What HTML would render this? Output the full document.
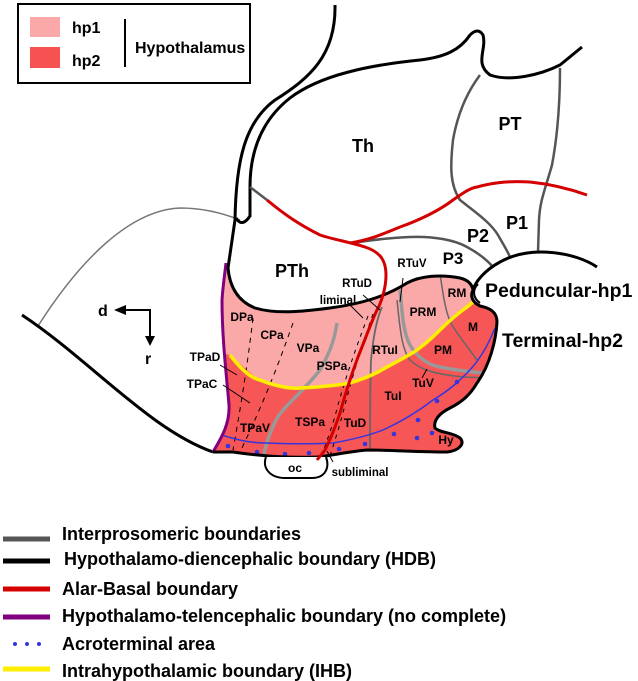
<!DOCTYPE html>
<html><head><meta charset="utf-8"><style>
html,body{margin:0;padding:0;background:#fff;}
svg{display:block;font-family:"Liberation Sans",Arial,sans-serif;font-weight:bold;}
</style></head><body>
<svg width="638" height="681" viewBox="0 0 638 681" xmlns="http://www.w3.org/2000/svg">
<defs>
<clipPath id="hy"><path id="hyp" d="M228,268 C230,290 240,302 255,308 C275,314 300,312 330,308 C360,304 385,297 407,283 C420,276 440,274 460,278 C468,280 472,284 473,290 C470,296 472,302 480,306 C490,308 497,312 497,322 C496,340 490,365 477,383 C470,395 462,402 450,408 C440,413 433,420 435,428 C440,433 452,432 460,438 C466,444 458,451 447,452 C420,452 390,450 367,450 C345,452 330,456 317,457 C290,458 260,456 233,452 L213,452 C220,440 230,425 229,405 C227,380 222,340 222,300 C223,285 225,275 228,268 Z"/></clipPath>
</defs>

<rect x="18" y="4" width="232" height="79" fill="#fff" stroke="#000" stroke-width="2"/>
<rect x="30" y="17" width="30" height="20" fill="#fba8a8"/>
<rect x="30" y="47" width="30" height="21" fill="#f65252"/>
<text x="72" y="33" font-size="16">hp1</text>
<text x="72" y="66" font-size="16">hp2</text>
<line x1="125" y1="19" x2="125" y2="67" stroke="#000" stroke-width="2"/>
<text x="135" y="53" font-size="16">Hypothalamus</text>

<path d="M38,326 C80,260 130,210 180,208 C205,208 225,214 240,220" fill="none" stroke="#777" stroke-width="1.5"/>
<path d="M22,315 C90,360 150,430 213,452" fill="none" stroke="#000" stroke-width="3"/>

<use href="#hyp" fill="#f65656"/>
<g clip-path="url(#hy)">
<path d="M200,240 L520,240 L520,300 L477,298 C460,312 445,325 440,330 C430,340 420,348 417,350 C400,360 387,367 387,367 C370,377 350,383 350,383 C330,387 300,388 300,388 C285,386 270,383 260,380 C248,372 238,362 230,355 L200,350 Z" fill="#fba8a8"/>
<path d="M337,323 C335,335 333,347 320,370 C300,395 283,407 276,420 C270,433 265,445 263,460" fill="none" stroke="#999" stroke-width="3.5"/>
<path d="M400,290 C402,310 403,333 410,345 C417,357 428,365 440,367 C455,370 470,372 485,373" fill="none" stroke="#999" stroke-width="3.5"/>
<path d="M397,300 C400,330 402,350 410,360 C420,370 435,374 463,377 L490,378" fill="none" stroke="#666" stroke-width="1.5"/>
<path d="M382,307 C376,320 373,340 371,360 C370,390 370,420 370,452" fill="none" stroke="#666" stroke-width="1.8"/>
<path d="M440,273 C443,295 446,315 452,325 C460,338 470,350 477,360" fill="none" stroke="#666" stroke-width="1.5"/>
<path d="M253,318 C248,360 242,400 233,450" fill="none" stroke="#000" stroke-width="1" stroke-dasharray="5,5"/>
<path d="M293,323 C280,360 265,400 240,452" fill="none" stroke="#000" stroke-width="1" stroke-dasharray="5,5"/>
<path d="M368,316 C355,350 345,380 338,405 C333,425 327,440 322,455" fill="none" stroke="#000" stroke-width="1" stroke-dasharray="4,5"/>
<path d="M373,314 C362,345 352,378 345,405 C340,425 335,440 330,456" fill="none" stroke="#000" stroke-width="1" stroke-dasharray="4,5"/>
<path d="M230,355 C240,368 250,378 260,380 C275,386 290,389 300,388 C325,387 345,384 350,383 C370,377 380,371 387,367 C400,360 410,355 417,350 C428,342 435,335 440,330 C450,320 460,312 467,307 C472,303 475,300 478,298" fill="none" stroke="#ffee00" stroke-width="3.5"/>
<path d="M213,432 C235,440 250,443 267,443 C290,444 315,444 333,443 C350,440 370,435 383,430 C405,420 420,410 433,400 C450,390 460,380 467,373 C480,360 488,345 495,328" fill="none" stroke="#3535dd" stroke-width="1.5"/>
</g>
<g fill="#3535dd">
<circle cx="228" cy="446" r="2.3"/><circle cx="257" cy="452" r="2.3"/><circle cx="285" cy="454" r="2.3"/><circle cx="309" cy="453" r="2.3"/><circle cx="339" cy="449" r="2.3"/><circle cx="365" cy="444" r="2.3"/><circle cx="394" cy="434" r="2.3"/><circle cx="417" cy="438" r="2.3"/><circle cx="432" cy="433" r="2.3"/><circle cx="418" cy="420" r="2.3"/><circle cx="437" cy="401" r="2.3"/><circle cx="457" cy="382" r="2.3"/>
</g>
<path d="M213,452 C220,440 230,425 229,405 C227,380 222,340 222,300 C223,285 225,272 226,263" fill="none" stroke="#800080" stroke-width="3"/>
<path d="M228,268 C230,290 240,302 255,308 C275,314 300,312 330,308 C360,304 385,297 407,283 C420,276 440,274 460,278 C468,280 472,284 473,290 C470,296 472,302 480,306 C490,308 497,312 497,322 C496,340 490,365 477,383 C470,395 462,402 450,408 C440,413 433,420 435,428 C440,433 452,432 460,438 C466,444 458,451 447,452 C420,452 390,450 367,450 C345,452 330,456 317,457 C290,458 260,456 233,452 L213,452" fill="none" stroke="#000" stroke-width="3"/>
<path d="M266,457 C262,468 270,478 285,478 L312,478 C325,478 330,468 326,457" fill="#fff" stroke="#000" stroke-width="2"/>

<path d="M335,5 C336,55 310,78 275,100 C245,122 236,160 235,220 L228,268" fill="none" stroke="#000" stroke-width="3"/>
<path d="M236,218 Q242,228 250,216 L250,187 C250,150 262,120 290,98 C320,75 370,65 420,60 C445,57 460,50 470,35 Q478,27 483,35 C487,50 474,63 490,75 C510,82 540,75 560,65 L582,47" fill="none" stroke="#000" stroke-width="3"/>
<path d="M250,187 L267,200" stroke="#555" stroke-width="2.5"/>
<path d="M353,243 C370,240 390,238 410,237 C433,236 455,240 467,247 C480,254 487,260 493,267" fill="none" stroke="#555" stroke-width="2.5"/>
<path d="M480,75 C465,95 457,117 453,140 C450,167 450,185 460,200 C475,212 490,222 498,235 C503,244 507,250 510,257" fill="none" stroke="#555" stroke-width="2.5"/>
<path d="M560,68 C560,100 558,133 552,165 C545,190 540,200 539,220 L538,252" fill="none" stroke="#555" stroke-width="2.5"/>
<path d="M267,200 C285,215 300,225 320,235 C335,240 350,242 365,247 C380,252 386,260 386,275 C386,290 380,305 377,310 C370,325 365,340 358,357 C352,373 345,395 340,413 C335,428 330,440 325,450 L317,460" fill="none" stroke="#d40000" stroke-width="3"/>
<path d="M350,243 C370,240 385,233 400,227 C420,220 440,210 453,200 C463,193 470,188 477,187 C495,182 510,181 530,182 C550,184 570,189 587,195" fill="none" stroke="#d40000" stroke-width="3"/>
<path d="M597,267 C575,252 530,245 500,262 C485,270 475,282 473,290" fill="none" stroke="#000" stroke-width="3"/>
<path d="M478,284 C472,290 473,298 480,303" fill="none" stroke="#000" stroke-width="2"/>

<g stroke="#000" stroke-width="1" fill="none">
<path d="M220,365 L237,375"/><path d="M223,385 L250,403"/><path d="M350,305 L363,318"/><path d="M363,295 L380,310"/>
<path d="M403,278 L400,302"/><path d="M427,369 L422,378"/><path d="M327,451 L333,462"/>
</g>

<g font-size="18" text-anchor="middle">
<text x="363" y="152">Th</text><text x="510" y="130">PT</text><text x="517" y="229">P1</text><text x="478" y="242">P2</text><text x="453" y="264" font-size="17">P3</text><text x="292" y="277">PTh</text>
</g>
<text x="485" y="297" font-size="19.5">Peduncular-hp1</text>
<text x="502" y="347" font-size="19.5">Terminal-hp2</text>
<g font-size="12" text-anchor="middle">
<text x="242" y="321">DPa</text><text x="272" y="339">CPa</text><text x="308" y="352">VPa</text><text x="332" y="370">PSPa</text><text x="385" y="354">RTuI</text><text x="423" y="316">PRM</text><text x="457" y="297">RM</text><text x="473" y="331">M</text><text x="443" y="354">PM</text><text x="423" y="387">TuV</text><text x="393" y="400">TuI</text><text x="310" y="426">TSPa</text><text x="355" y="427">TuD</text><text x="255" y="432">TPaV</text><text x="446" y="444">Hy</text><text x="295" y="472">oc</text><text x="360" y="476" font-size="11.5">subliminal</text><text x="357" y="287" font-size="11.5">RTuD</text><text x="338" y="304" font-size="11.5">liminal</text><text x="412" y="267" font-size="11.5">RTuV</text>
<text x="205" y="361">TPaD</text><text x="202" y="388">TPaC</text>
</g>
<text x="98" y="316" font-size="16">d</text>
<text x="145" y="364" font-size="16">r</text>
<path d="M125,310 L150,310 L150,338" fill="none" stroke="#000" stroke-width="2"/>
<polygon points="114,310 126,305 126,315"/>
<polygon points="150,346 145,336 155,336"/>

<line x1="3" y1="539" x2="50" y2="539" stroke="#555" stroke-width="5"/>
<line x1="3" y1="561" x2="50" y2="561" stroke="#000" stroke-width="5"/>
<line x1="3" y1="589" x2="50" y2="589" stroke="#d40000" stroke-width="5"/>
<line x1="3" y1="617" x2="50" y2="617" stroke="#800080" stroke-width="5"/>
<g fill="#3535dd"><circle cx="15" cy="644" r="2"/><circle cx="27" cy="644" r="2"/><circle cx="39" cy="644" r="2"/></g>
<line x1="3" y1="669" x2="50" y2="669" stroke="#ffee00" stroke-width="5"/>
<g font-size="18">
<text x="62" y="540">Interprosomeric boundaries</text>
<text x="64" y="565">Hypothalamo-diencephalic boundary (HDB)</text>
<text x="62" y="595">Alar-Basal boundary</text>
<text x="62" y="622">Hypothalamo-telencephalic boundary (no complete)</text>
<text x="62" y="650">Acroterminal area</text>
<text x="62" y="677">Intrahypothalamic boundary (IHB)</text>
</g>
</svg>
</body></html>
